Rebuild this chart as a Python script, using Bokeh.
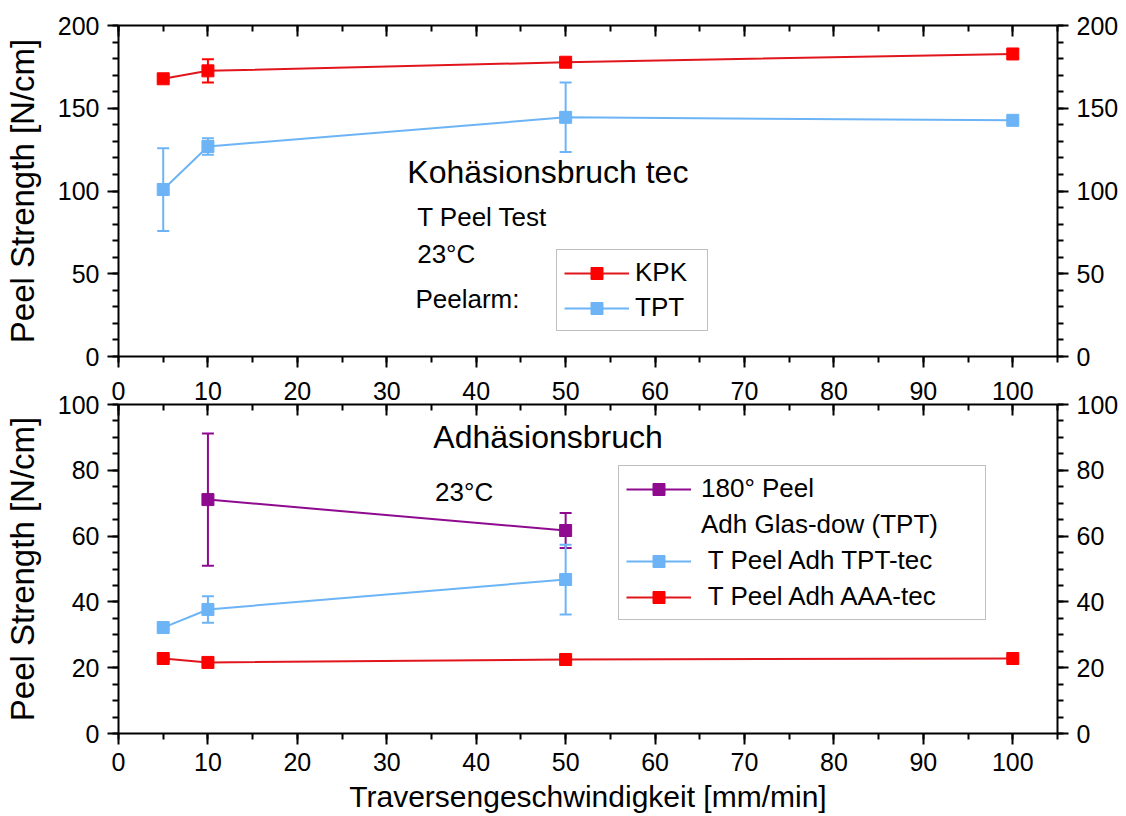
from bokeh.plotting import figure
from bokeh.models import (Range1d, LinearAxis, Whisker, ColumnDataSource, Legend,
                          LegendItem, Label, TeeHead, SingleIntervalTicker)
from bokeh.layouts import column
from bokeh.embed import file_html
from bokeh.resources import INLINE

# ---------------- data ----------------
x_ticks_interval = 10
# top panel (Kohäsionsbruch tec)
speed_kpk = [5, 10, 50, 100]
kpk = [167.8, 172.6, 177.8, 182.8]
kpk_err = [1.5, 7.0, 1.5, 2.5]
speed_tpt = [5, 10, 50, 100]
tpt = [100.9, 126.9, 144.5, 142.7]
tpt_err = [25.0, 5.0, 21.0, 1.0]

# bottom panel (Adhäsionsbruch)
speed_180 = [10, 50]
peel180 = [71.1, 61.7]
peel180_err = [20.1, 5.3]
speed_tpt_tec = [5, 10, 50]
tpt_tec = [32.2, 37.7, 46.8]
tpt_tec_err = [0.5, 4.0, 10.6]
speed_aaa = [5, 10, 50, 100]
aaa = [22.8, 21.6, 22.5, 22.8]
aaa_err = [0.8, 0.8, 0.8, 0.6]

RED_LINE = "#e0161c"
RED = "#ff0000"
BLUE = "#6cb4f6"
PURPLE = "#8e0a8e"
FONT = "Liberation Sans"
TICK_FS = "25px"


def style_axis(ax, ticker, labels=True, inward=False, standoff=8):
    ax.ticker = ticker
    ax.axis_line_width = 2
    ax.major_tick_line_width = 2
    ax.minor_tick_line_width = 2
    ax.axis_line_color = "black"
    ax.major_tick_line_color = "black"
    ax.minor_tick_line_color = "black"
    if inward:
        ax.major_tick_in = 11
        ax.major_tick_out = 0
        ax.minor_tick_in = 6
        ax.minor_tick_out = 0
    else:
        ax.major_tick_in = 0
        ax.major_tick_out = 11
        ax.minor_tick_in = 0
        ax.minor_tick_out = 6
    ax.major_label_text_font = FONT
    ax.axis_label_text_font = FONT
    ax.axis_label_text_font_style = "normal"
    ax.axis_label_text_color = "black"
    if labels:
        ax.major_label_text_color = "black"
        ax.major_label_text_font_size = TICK_FS
        ax.major_label_standoff = standoff
    else:
        ax.major_label_text_color = None
        ax.major_label_text_font_size = "0px"
        ax.major_label_standoff = 0


def make_panel(ymax, yint, yminor, frame_h, top, bottom, xlabel, top_labels):
    p = figure(frame_width=939, frame_height=frame_h, x_range=Range1d(0, 105),
               y_range=Range1d(0, ymax), output_backend="svg", toolbar_location=None,
               min_border_left=118, min_border_right=69, min_border_top=top,
               min_border_bottom=bottom, background_fill_color="white",
               border_fill_color="white")
    p.grid.visible = False
    p.outline_line_color = None
    xt = SingleIntervalTicker(interval=x_ticks_interval, num_minor_ticks=2)
    yt = SingleIntervalTicker(interval=yint, num_minor_ticks=yminor)
    style_axis(p.xaxis[0], xt, labels=xlabel is not None)
    style_axis(p.yaxis[0], yt)
    p.yaxis[0].axis_label = "Peel Strength [N/cm]"
    p.yaxis[0].axis_label_text_font_size = "33px"
    p.yaxis[0].axis_label_standoff = 14
    if xlabel:
        p.xaxis[0].axis_label = xlabel
        p.xaxis[0].axis_label_text_font_size = "30px"
        p.xaxis[0].axis_label_standoff = 6
    r = LinearAxis()
    style_axis(r, SingleIntervalTicker(interval=yint, num_minor_ticks=yminor))
    p.add_layout(r, "right")
    t = LinearAxis()
    style_axis(t, SingleIntervalTicker(interval=x_ticks_interval, num_minor_ticks=2),
               labels=top_labels, inward=True, standoff=5)
    p.add_layout(t, "above")
    return p


def series(p, x, y, err, line_color, marker_color):
    src = ColumnDataSource(dict(x=x, y=y, lo=[a - b for a, b in zip(y, err)],
                                hi=[a + b for a, b in zip(y, err)]))
    w = Whisker(source=src, base="x", lower="lo", upper="hi",
                line_color=marker_color, line_width=2,
                upper_head=TeeHead(size=12, line_color=marker_color, line_width=2),
                lower_head=TeeHead(size=12, line_color=marker_color, line_width=2))
    p.add_layout(w)
    ln = p.line("x", "y", source=src, line_color=line_color, line_width=2)
    sc = p.scatter("x", "y", source=src, marker="square", size=12,
                   fill_color=marker_color, line_color=marker_color)
    return ln, sc


def label(p, x, y, text, fs):
    p.add_layout(Label(x=x, y=y, text=text, text_font=FONT, text_font_size=fs,
                       text_baseline="middle", text_align="left", text_color="black"))


def style_legend(lg):
    lg.label_text_font = FONT
    lg.label_text_color = "black"
    lg.border_line_color = "#808080"
    lg.border_line_width = 1.5
    lg.background_fill_color = "white"
    lg.background_fill_alpha = 1.0
    lg.padding = 7
    lg.margin = 0
    lg.glyph_width = 65
    lg.glyph_height = 30


# ---------------- top panel ----------------
p1 = make_panel(200, 50, 5, 331, 25, 14, None, False)
l1, s1 = series(p1, speed_kpk, kpk, kpk_err, RED_LINE, RED)
l2, s2 = series(p1, speed_tpt, tpt, tpt_err, BLUE, BLUE)
label(p1, 32.3, 111.2, "Kohäsionsbruch tec", "32px")
label(p1, 33.4, 84.0, "T Peel Test", "26px")
label(p1, 33.4, 62.2, "23°C", "26px")
label(p1, 33.2, 35.0, "Peelarm:", "26px")
lg1 = Legend(items=[LegendItem(label="KPK", renderers=[l1, s1]),
                    LegendItem(label="TPT", renderers=[l2, s2])],
             location=(438, 25))
style_legend(lg1)
lg1.label_text_font_size = "26px"
lg1.label_standoff = 6
lg1.spacing = 4
lg1.label_width = 65
p1.add_layout(lg1)

# ---------------- bottom panel ----------------
p2 = make_panel(100, 20, 4, 329, 34, 83, "Traversengeschwindigkeit [mm/min]", True)
l3, s3 = series(p2, speed_180, peel180, peel180_err, PURPLE, PURPLE)
l4, s4 = series(p2, speed_tpt_tec, tpt_tec, tpt_tec_err, BLUE, BLUE)
l5, s5 = series(p2, speed_aaa, aaa, aaa_err, RED_LINE, RED)
dummy = p2.scatter([], [], marker="square", size=1, alpha=0)
label(p2, 35.2, 90.0, "Adhäsionsbruch", "32px")
label(p2, 35.4, 73.3, "23°C", "26px")
lg2 = Legend(items=[LegendItem(label="180° Peel", renderers=[l3, s3]),
                    LegendItem(label="Adh Glas-dow (TPT)", renderers=[dummy]),
                    LegendItem(label=" T Peel Adh TPT-tec", renderers=[l4, s4]),
                    LegendItem(label=" T Peel Adh AAA-tec", renderers=[l5, s5])],
             location=(500, 113))
style_legend(lg2)
lg2.label_text_font_size = "26px"
lg2.label_standoff = 10
lg2.spacing = 5
lg2.label_width = 277
p2.add_layout(lg2)

layout = column(p1, p2, spacing=0)
open("out.html", "w").write(file_html(layout, INLINE))
